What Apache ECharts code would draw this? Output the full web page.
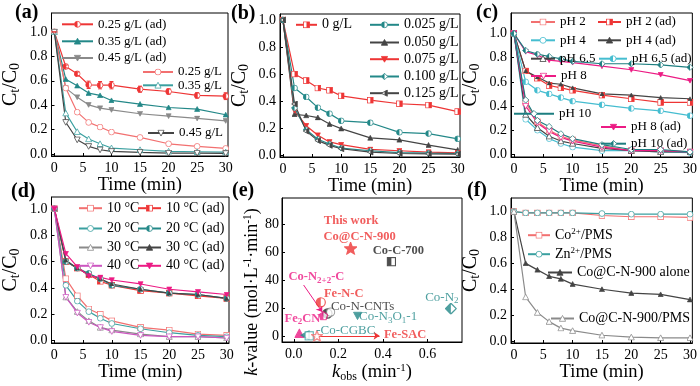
<!DOCTYPE html>
<html>
<head>
<meta charset="utf-8">
<script src="https://cdn.jsdelivr.net/npm/echarts@6/dist/echarts.min.js"></script>
<style>
html, body { margin: 0; padding: 0; background: #fff; }
#chart { width: 700px; height: 386px; }
</style>
</head>
<body>
<div id="chart"></div>
<script>
var SERIF = '"Liberation Serif","Times New Roman",serif';

// sampling times (min) shared by the kinetic panels
var T = [0, 2, 4, 6, 8, 10, 15, 20, 25, 30];
var timeTicks = [0, 5, 10, 15, 20, 25, 30];
var ratioTicks = [0, 0.2, 0.4, 0.6, 0.8, 1.0];
var kobsTicks = [0, 0.2, 0.4, 0.6];
var kvalTicks = [0, 20, 40, 60, 80];

// (a) catalyst dosage
var a_ad25 = [1.0, 0.717, 0.657, 0.567, 0.564, 0.564, 0.531, 0.512, 0.48, 0.474];
var a_ad35 = [1.0, 0.613, 0.559, 0.499, 0.48, 0.439, 0.409, 0.381, 0.368, 0.322];
var a_ad45 = [1.0, 0.54, 0.466, 0.403, 0.376, 0.362, 0.33, 0.311, 0.292, 0.272];
var a_25 = [1.0, 0.54, 0.343, 0.259, 0.221, 0.18, 0.136, 0.084, 0.063, 0.046];
var a_35 = [1.0, 0.335, 0.183, 0.123, 0.084, 0.049, 0.035, 0.022, 0.019, 0.016];
var a_45 = [1.0, 0.26, 0.117, 0.063, 0.035, 0.022, 0.014, 0.008, 0.008, 0.005];
var a_err25 = [0, 0.012, 0.015, 0.03, 0.03, 0.03, 0.025, 0.022, 0.022, 0.028];

// (b) PMS dosage
var b_0 = [1.0, 0.601, 0.553, 0.498, 0.481, 0.44, 0.408, 0.382, 0.372, 0.324];
var b_025 = [1.0, 0.498, 0.432, 0.353, 0.309, 0.256, 0.242, 0.171, 0.162, 0.123];
var b_050 = [1.0, 0.304, 0.295, 0.28, 0.232, 0.198, 0.13, 0.116, 0.077, 0.041];
var b_075 = [1.0, 0.33, 0.22, 0.15, 0.10, 0.08, 0.045, 0.035, 0.025, 0.02];
var b_100 = [1.0, 0.35, 0.19, 0.12, 0.085, 0.055, 0.035, 0.022, 0.018, 0.015];
var b_125 = [1.0, 0.38, 0.18, 0.11, 0.075, 0.05, 0.025, 0.015, 0.012, 0.01];

// (c) initial pH
var c_2 = [1.0, 0.43, 0.27, 0.20, 0.15, 0.12, 0.07, 0.03, 0.03, 0.02];
var c_2ad = [1.0, 0.69, 0.63, 0.57, 0.55, 0.53, 0.49, 0.46, 0.43, 0.43];
var c_4 = [1.0, 0.29, 0.20, 0.13, 0.09, 0.06, 0.03, 0.03, 0.02, 0.015];
var c_4ad = [1.0, 0.69, 0.64, 0.59, 0.58, 0.55, 0.50, 0.49, 0.47, 0.46];
var c_65 = [1.0, 0.33, 0.22, 0.15, 0.11, 0.09, 0.05, 0.03, 0.02, 0.02];
var c_65ad = [1.0, 0.60, 0.53, 0.50, 0.47, 0.44, 0.41, 0.38, 0.36, 0.32];
var c_8 = [1.0, 0.40, 0.26, 0.19, 0.14, 0.11, 0.06, 0.03, 0.03, 0.02];
var c_8ad = [1.0, 0.85, 0.82, 0.78, 0.77, 0.76, 0.73, 0.70, 0.66, 0.61];
var c_10 = [1.0, 0.45, 0.28, 0.23, 0.17, 0.13, 0.08, 0.04, 0.04, 0.02];
var c_10ad = [1.0, 0.86, 0.83, 0.81, 0.79, 0.77, 0.75, 0.75, 0.74, 0.72];

// (d) temperature
var d_10 = [1.0, 0.47, 0.34, 0.24, 0.20, 0.15, 0.10, 0.08, 0.05, 0.04];
var d_10ad = [1.0, 0.60, 0.55, 0.50, 0.45, 0.42, 0.38, 0.36, 0.34, 0.32];
var d_20 = [1.0, 0.42, 0.30, 0.22, 0.17, 0.13, 0.09, 0.06, 0.04, 0.03];
var d_20ad = [1.0, 0.60, 0.55, 0.51, 0.47, 0.42, 0.39, 0.36, 0.35, 0.32];
var d_30 = [1.0, 0.33, 0.22, 0.15, 0.10, 0.08, 0.05, 0.03, 0.03, 0.02];
var d_30ad = [1.0, 0.61, 0.55, 0.50, 0.47, 0.43, 0.39, 0.36, 0.35, 0.32];
var d_40 = [1.0, 0.33, 0.21, 0.14, 0.10, 0.07, 0.04, 0.03, 0.03, 0.02];
var d_40ad = [1.0, 0.66, 0.56, 0.49, 0.48, 0.46, 0.43, 0.39, 0.37, 0.35];

// (e) comparison with reported catalysts
var e_names = ['Co@C-N-900', 'Co-C-700', 'Co-N2', 'Co-N3O1-1', 'Co-N-CNTs', '', 'Co-N2+2-C', 'Fe-N-C', 'Fe2CN', 'Co-CGBC', '', 'Fe-SAC'];
var e_kobs = [0.255, 0.438, 0.705, 0.286, 0.151, 0.165, 0.133, 0.121, 0.025, 0.051, 0.069, 0.104];
var e_kval = [62.7, 53.1, 19.5, 14.4, 16.0, 17.0, 14.4, 24.0, 1.7, 0.5, 0.0, 0.0];
var e_arrowN = [[0.044, 36.4], [0.128, 17.0]];
var e_arrowSAC = [[0.112, 0.0], [0.385, 0.0]];

// (f) control experiments
var f_co = [1.0, 0.99, 0.99, 0.99, 0.99, 0.99, 0.97, 0.96, 0.96, 0.955];
var f_zn = [1.0, 0.99, 0.99, 0.99, 0.99, 0.99, 0.985, 0.98, 0.98, 0.98];
var f_alone = [1.0, 0.60, 0.55, 0.50, 0.48, 0.44, 0.40, 0.37, 0.36, 0.32];
var f_pms = [1.0, 0.34, 0.22, 0.15, 0.10, 0.08, 0.045, 0.03, 0.025, 0.025];

var RED = '#ee3535', RED_L = '#f27070', TEAL = '#238888', TEAL_L = '#3aa0a0',
    GRAY = '#444444', GRAY_L = '#8a8a8a', CYAN = '#45bdd0', DTEAL = '#1d7e80',
    PINK = '#ec1b84', PURP = '#cc55c0', BLACK = '#222222';

// marker shapes drawn as small svg images (open / solid / half filled)
function starPts() {
  var p = [];
  for (var i = 0; i < 10; i++) {
    var r = i % 2 ? 3.9 : 9.6, a = -Math.PI / 2 + i * Math.PI / 5;
    p.push((10 + r * Math.cos(a)).toFixed(2) + ',' + (10.9 + r * Math.sin(a)).toFixed(2));
  }
  return p.join(' ');
}
function pentPts() {
  var p = [];
  for (var i = 0; i < 5; i++) {
    var a = -Math.PI / 2 + i * 2 * Math.PI / 5;
    p.push((10 + 9 * Math.cos(a)).toFixed(2) + ',' + (10.8 + 9 * Math.sin(a)).toFixed(2));
  }
  return p.join(' ');
}
var SHAPES = {
  circle: '<circle cx="10" cy="10" r="8.3"/>',
  square: '<rect x="1.8" y="1.8" width="16.4" height="16.4"/>',
  up: '<polygon points="10,1.5 18.8,17.8 1.2,17.8"/>',
  down: '<polygon points="1.2,2.2 18.8,2.2 10,18.5"/>',
  left: '<polygon points="1.5,10 17.8,1.2 17.8,18.8"/>',
  diamond: '<polygon points="10,1 19,10 10,19 1,10"/>',
  star: '<polygon points="' + starPts() + '"/>',
  pent: '<polygon points="' + pentPts() + '"/>'
};
function sym(shape, color, fill) {
  var s = SHAPES[shape];
  var svg = '<svg xmlns="http://www.w3.org/2000/svg" width="20" height="20" viewBox="0 0 20 20">' +
    '<defs><clipPath id="l"><rect x="0" y="0" width="10" height="20"/></clipPath>' +
    '<clipPath id="r"><rect x="10" y="0" width="10" height="20"/></clipPath></defs>' +
    '<g fill="' + (fill === 'solid' ? color : '#fff') + '" stroke="' + color + '" stroke-width="2.2">' + s + '</g>';
  if (fill === 'left' || fill === 'right') {
    svg += '<g fill="' + color + '" clip-path="url(#' + (fill === 'left' ? 'l' : 'r') + ')">' + s + '</g>';
  }
  svg += '</svg>';
  return 'image://data:image/svg+xml;charset=utf-8,' + encodeURIComponent(svg);
}

function pts(v) { return T.map(function (t, i) { return [t, v[i]]; }); }

function ln(name, g, v, color, symbol, size) {
  return {
    name: name, type: 'line', xAxisIndex: g, yAxisIndex: g,
    data: pts(v), symbol: symbol, symbolSize: size || 7,
    lineStyle: { color: color, width: 1.2 },
    itemStyle: { color: color },
    animation: false, z: 3
  };
}

var series = [
  // (a)
  ln('0.25 g/L (ad)', 0, a_ad25, RED, sym('circle', RED, 'left')),
  ln('0.35 g/L (ad)', 0, a_ad35, TEAL, sym('up', TEAL, 'solid'), 6),
  ln('0.45 g/L (ad)', 0, a_ad45, GRAY_L, sym('down', GRAY_L, 'solid'), 6),
  ln('0.25 g/L', 0, a_25, RED_L, sym('circle', RED_L, 'open')),
  ln('0.35 g/L', 0, a_35, TEAL_L, sym('up', TEAL_L, 'open')),
  ln('0.45 g/L', 0, a_45, GRAY, sym('down', GRAY, 'open')),
  {
    type: 'custom', xAxisIndex: 0, yAxisIndex: 0, z: 4, animation: false,
    data: T.map(function (t, i) { return [t, a_ad25[i] - a_err25[i], a_ad25[i] + a_err25[i]]; }),
    renderItem: function (params, api) {
      var lo = api.coord([api.value(0), api.value(1)]);
      var hi = api.coord([api.value(0), api.value(2)]);
      var st = { stroke: RED, lineWidth: 1 };
      return { type: 'group', children: [
        { type: 'line', shape: { x1: lo[0], y1: lo[1], x2: hi[0], y2: hi[1] }, style: st },
        { type: 'line', shape: { x1: lo[0] - 2, y1: lo[1], x2: lo[0] + 2, y2: lo[1] }, style: st },
        { type: 'line', shape: { x1: hi[0] - 2, y1: hi[1], x2: hi[0] + 2, y2: hi[1] }, style: st }
      ] };
    }
  },
  // (b)
  ln('0 g/L', 1, b_0, RED, sym('square', RED, 'right')),
  ln('0.025 g/L', 1, b_025, TEAL, sym('circle', TEAL, 'left')),
  ln('0.050 g/L', 1, b_050, GRAY, sym('up', GRAY, 'solid'), 6),
  ln('0.075 g/L', 1, b_075, RED, sym('down', RED, 'solid'), 6),
  ln('0.100 g/L', 1, b_100, TEAL, sym('diamond', TEAL, 'left')),
  ln('0.125 g/L', 1, b_125, GRAY, sym('left', GRAY, 'right')),
  // (c)
  ln('pH 2', 2, c_2, RED_L, sym('square', RED_L, 'open')),
  ln('pH 2 (ad)', 2, c_2ad, RED, sym('square', RED, 'right')),
  ln('pH 4', 2, c_4, CYAN, sym('circle', CYAN, 'open')),
  ln('pH 4 (ad)', 2, c_4ad, GRAY, sym('up', GRAY, 'solid'), 5),
  ln('pH 6.5', 2, c_65, GRAY, sym('up', GRAY, 'open')),
  ln('pH 6.5 (ad)', 2, c_65ad, CYAN, sym('circle', CYAN, 'left')),
  ln('pH 8', 2, c_8, PINK, sym('down', PINK, 'open')),
  ln('pH 8 (ad)', 2, c_8ad, PINK, sym('down', PINK, 'solid'), 6),
  ln('pH 10', 2, c_10, DTEAL, sym('diamond', DTEAL, 'open')),
  ln('pH 10 (ad)', 2, c_10ad, DTEAL, sym('diamond', DTEAL, 'left')),
  // (d)
  ln('10 °C', 3, d_10, RED_L, sym('square', RED_L, 'open')),
  ln('10 °C (ad)', 3, d_10ad, RED, sym('square', RED, 'left')),
  ln('20 °C', 3, d_20, TEAL_L, sym('circle', TEAL_L, 'open')),
  ln('20 °C (ad)', 3, d_20ad, TEAL, sym('circle', TEAL, 'left')),
  ln('30 °C', 3, d_30, GRAY_L, sym('up', GRAY_L, 'open')),
  ln('30 °C (ad)', 3, d_30ad, GRAY, sym('up', GRAY, 'solid'), 5),
  ln('40 °C', 3, d_40, PURP, sym('down', PURP, 'open')),
  ln('40 °C (ad)', 3, d_40ad, PINK, sym('down', PINK, 'solid'), 6),
  // (f)
  ln('Co2+/PMS', 5, f_co, RED_L, sym('square', RED_L, 'open')),
  ln('Zn2+/PMS', 5, f_zn, TEAL_L, sym('circle', TEAL_L, 'open')),
  ln('Co@C-N-900 alone', 5, f_alone, GRAY, sym('up', GRAY, 'solid'), 6),
  ln('Co@C-N-900/PMS', 5, f_pms, GRAY_L, sym('up', GRAY_L, 'open'))
];

// (e) point styles and annotation text
var E_STYLE = [
  { s: sym('star', RED, 'solid'), z: 13, c: RED, b: true, pos: 'inside', off: [9, -20], f: '{t|This work}\n{n|Co@C-N-900}' },
  { s: sym('square', BLACK, 'left'), z: 10, c: BLACK, b: true, pos: 'inside', off: [7, -11], f: 'Co-C-700' },
  { s: sym('diamond', TEAL, 'left'), z: 12, c: TEAL, b: false, pos: 'inside', off: [-9, -11], f: '{n|Co-N}{sb|2}' },
  { s: sym('down', TEAL, 'solid'), z: 9, c: TEAL, b: false, pos: 'right', off: [-3, 1], f: '{n|Co-N}{sb|3}{n|O}{sb|1}{n|-1}' },
  { s: sym('circle', BLACK, 'left'), z: 11, c: BLACK, b: false, pos: 'right', off: [-2, -7], f: 'Co-N-CNTs' },
  { s: sym('circle', GRAY_L, 'open'), z: 10, c: BLACK, b: false, pos: 'right', off: [0, 0], f: '' },
  { s: sym('pent', PINK, 'left'), z: 10, c: PINK, b: true, pos: 'inside', off: [-7, -39], f: '{n|Co-N}{sb|2+2}{n|-C}' },
  { s: sym('circle', RED, 'left'), z: 11, c: RED, b: true, pos: 'inside', off: [23, -9], f: 'Fe-N-C' },
  { s: sym('up', PINK, 'solid'), z: 10, c: PINK, b: true, pos: 'inside', off: [3, -15], f: '{n|Fe}{sb|2}{n|CN}' },
  { s: sym('left', TEAL, 'left'), z: 10, c: TEAL, b: false, pos: 'right', off: [6, -5], f: '-Co-CGBC' },
  { s: sym('square', TEAL_L, 'open'), z: 10, c: TEAL, b: false, pos: 'right', off: [0, 0], f: '' },
  { s: sym('star', RED_L, 'open'), z: 12, c: RED, b: true, pos: 'right', off: [61, -1], f: 'Fe-SAC' }
];

series.push({
  type: 'scatter', xAxisIndex: 4, yAxisIndex: 4, animation: false, z: 5,
  data: e_names.map(function (n, i) {
    var st = E_STYLE[i];
    return {
      name: n, value: [e_kobs[i], e_kval[i]],
      symbol: st.s, symbolSize: st.z,
      label: {
        show: st.f !== '', position: st.pos, distance: 0, offset: st.off,
        formatter: st.f, color: st.c, fontFamily: SERIF,
        fontSize: st.b ? 12.5 : 13, fontWeight: st.b ? 'bold' : 'normal', lineHeight: 16,
        rich: {
          n: {}, t: { padding: [0, 17, 0, 0] },
          sb: { fontSize: 9, padding: [7, 0, 0, 0] }
        }
      }
    };
  }),
  markLine: {
    silent: true, animation: false, symbol: ['none', 'arrow'], symbolSize: 6, label: { show: false },
    data: [
      [{ coord: e_arrowN[0], lineStyle: { color: PINK, width: 1, type: 'solid' } }, { coord: e_arrowN[1] }],
      [{ coord: e_arrowSAC[0], lineStyle: { color: RED, width: 1, type: 'solid' } }, { coord: e_arrowSAC[1] }]
    ]
  }
});

var GRIDS = [
  { left: 49, top: 13, width: 179, height: 143 },
  { left: 280, top: 14, width: 180, height: 143 },
  { left: 511, top: 13, width: 182, height: 144 },
  { left: 46, top: 197, width: 183, height: 146 },
  { left: 282, top: 198, width: 180, height: 144 },
  { left: 511, top: 198, width: 182, height: 145 }
].map(function (g) {
  return Object.assign({ show: true, borderColor: '#000', borderWidth: 1, backgroundColor: 'transparent', containLabel: false }, g);
});

var AX_LINE = { show: true, onZero: false, lineStyle: { color: '#000', width: 1 } };
function tick(vals) { return { inside: true, length: 3, customValues: vals, lineStyle: { color: '#000' } }; }

function xTime(g) {
  return {
    gridIndex: g, type: 'value', min: -0.5, max: 30.4,
    name: 'Time (min)', nameLocation: 'middle', nameGap: 18,
    nameTextStyle: { fontFamily: SERIF, fontSize: 18.5, color: '#000' },
    axisLine: AX_LINE, axisTick: tick(timeTicks), splitLine: { show: false },
    axisLabel: { customValues: timeTicks, fontFamily: SERIF, fontSize: 14, color: '#000', margin: 5 }
  };
}
function yRatio(g, min, max) {
  return {
    gridIndex: g, type: 'value', min: min, max: max,
    name: '{c|C}{s|t}{c|/C}{s|0}', nameLocation: 'middle', nameGap: 29,
    nameTextStyle: { rich: {
      c: { fontFamily: SERIF, fontSize: 20, color: '#000' },
      s: { fontFamily: SERIF, fontSize: 14, color: '#000', padding: [9, 0, 0, 0] }
    } },
    axisLine: AX_LINE, axisTick: tick(ratioTicks), splitLine: { show: false },
    axisLabel: {
      customValues: ratioTicks, fontFamily: SERIF, fontSize: 14, color: '#000', margin: 4,
      formatter: function (v) { return v.toFixed(1); }
    }
  };
}

var xAxes = [xTime(0), xTime(1), xTime(2), xTime(3), {
  gridIndex: 4, type: 'value', min: -0.053, max: 0.755,
  name: '{i|k}{sb|obs}{n| (min}{sp|-1}{n|)}', nameLocation: 'middle', nameGap: 20,
  nameTextStyle: { rich: {
    i: { fontFamily: SERIF, fontSize: 18.5, fontStyle: 'italic', color: '#000' },
    n: { fontFamily: SERIF, fontSize: 18.5, color: '#000' },
    sb: { fontFamily: SERIF, fontSize: 12, color: '#000', padding: [9, 0, 0, 0] },
    sp: { fontFamily: SERIF, fontSize: 11, color: '#000', padding: [0, 0, 9, 0] }
  } },
  axisLine: AX_LINE, axisTick: tick(kobsTicks), splitLine: { show: false },
  axisLabel: { customValues: kobsTicks, fontFamily: SERIF, fontSize: 14, color: '#000', margin: 5,
    formatter: function (v) { return v.toFixed(1); } }
}, xTime(5)];

var yAxes = [yRatio(0, -0.016, 1.155), yRatio(1, -0.011, 1.044), yRatio(2, -0.022, 1.17),
  yRatio(3, -0.018, 1.09), {
  gridIndex: 4, type: 'value', min: -4.4, max: 98.7,
  name: '{i|k}{n|-value (mol·L}{sp|-1}{n|·min}{sp|-1}{n|)}', nameLocation: 'middle', nameGap: 16,
  nameTextStyle: { padding: [0, 44, 0, 0], rich: {
    i: { fontFamily: SERIF, fontSize: 18, fontStyle: 'italic', color: '#000' },
    n: { fontFamily: SERIF, fontSize: 18, color: '#000' },
    sp: { fontFamily: SERIF, fontSize: 11.5, color: '#000', padding: [0, 0, 9, 0] }
  } },
  axisLine: AX_LINE, axisTick: tick(kvalTicks), splitLine: { show: false },
  axisLabel: { customValues: kvalTicks, fontFamily: SERIF, fontSize: 14, color: '#000', margin: 3 }
}, yRatio(5, -0.015, 1.105)];

// legend rows: name, line start x, row centre y, text start x, font size
var LEG = [
  ['0.25 g/L (ad)', 61, 22.3, 97, 13], ['0.35 g/L (ad)', 61, 39.3, 97, 13], ['0.45 g/L (ad)', 61, 56, 97, 13],
  ['0.25 g/L', 142, 70, 177, 13], ['0.35 g/L', 142, 83.3, 177, 13], ['0.45 g/L', 147, 131, 178, 13],
  ['0 g/L', 295, 22.3, 321, 14], ['0.025 g/L', 369, 22.3, 403, 14], ['0.050 g/L', 369, 40, 403, 14],
  ['0.075 g/L', 369, 56.7, 403, 14], ['0.100 g/L', 369, 74, 403, 14], ['0.125 g/L', 369, 90.7, 403, 14],
  ['pH 2', 530, 20, 559, 13], ['pH 2 (ad)', 597, 20, 625, 13], ['pH 4', 530, 38.3, 559, 13],
  ['pH 4 (ad)', 597, 38.3, 625, 13], ['pH 6.5', 530, 56.7, 559, 13], ['pH 6.5 (ad)', 598, 56.7, 631, 13],
  ['pH 8', 530, 74, 560, 13], ['pH 10', 513, 111.7, 558, 13], ['pH 8 (ad)', 600, 125, 630, 13],
  ['pH 10 (ad)', 600, 141.7, 630, 13],
  ['10 °C', 78, 205.7, 106, 14], ['10 °C (ad)', 137, 205.7, 165, 14],
  ['20 °C', 78, 226, 106, 14], ['20 °C (ad)', 137, 226, 165, 14],
  ['30 °C', 78, 245, 106, 14], ['30 °C (ad)', 137, 245, 165, 14],
  ['40 °C', 78, 263.3, 106, 14], ['40 °C (ad)', 137, 263.3, 165, 14],
  ['Co2+/PMS', 527, 231.7, 554, 14], ['Zn2+/PMS', 527, 250.7, 554, 14],
  ['Co@C-N-900 alone', 547, 270, 576, 14], ['Co@C-N-900/PMS', 550, 316, 578, 14]
];
var legends = LEG.map(function (r) {
  return {
    data: [r[0]], left: r[1], top: r[2] - 4.5, itemWidth: r[3] - r[1] - 5, itemHeight: 9,
    padding: 0, selectedMode: false,
    textStyle: { fontFamily: SERIF, fontSize: r[4], color: '#000', rich: {
      n: { fontFamily: SERIF, fontSize: r[4], color: '#000' },
      p: { fontFamily: SERIF, fontSize: 9, color: '#000', padding: [0, 0, 7, 0] }
    } },
    formatter: function (name) {
      var m = name.match(/^(Co|Zn)2\+\/PMS$/);
      return m ? '{n|' + m[1] + '}{p|2+}{n|/PMS}' : name;
    }
  };
});

var LETTERS = [['(a)', 15, 3], ['(b)', 231, 4], ['(c)', 476, 3], ['(d)', 11, 182], ['(e)', 232, 181], ['(f)', 467, 181]];
var titles = LETTERS.map(function (l) {
  return { text: l[0], left: l[1], top: l[2], padding: 0,
    textStyle: { fontFamily: SERIF, fontSize: 20, fontWeight: 'bold', color: '#000' } };
});

var chart = echarts.init(document.getElementById('chart'), null, { renderer: 'canvas' });
chart.setOption({
  backgroundColor: '#fff',
  animation: false,
  title: titles,
  legend: legends,
  grid: GRIDS,
  xAxis: xAxes,
  yAxis: yAxes,
  series: series
});
</script>
</body>
</html>
